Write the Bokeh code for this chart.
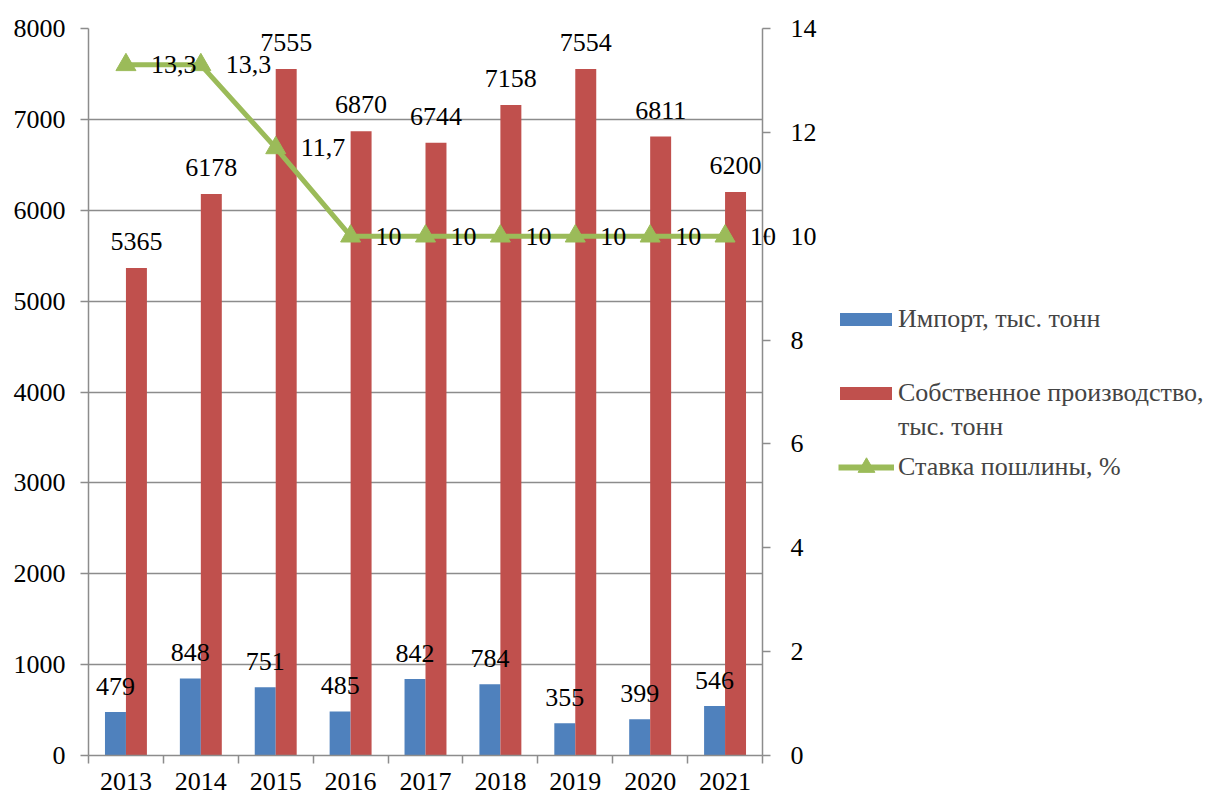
from bokeh.plotting import figure
from bokeh.layouts import row
from bokeh.models import (Range1d, LinearAxis, FixedTicker, ColumnDataSource,
                          LabelSet, Label, Legend, LegendItem)
from bokeh.core.properties import value
from bokeh.transform import dodge
from bokeh.embed import file_html
from bokeh.resources import INLINE

years = [2013, 2014, 2015, 2016, 2017, 2018, 2019, 2020, 2021]
imports = [479, 848, 751, 485, 842, 784, 355, 399, 546]
production = [5365, 6178, 7555, 6870, 6744, 7158, 7554, 6811, 6200]
duty = [13.3, 13.3, 11.7, 10, 10, 10, 10, 10, 10]
duty_labels = ["13,3", "13,3", "11,7", "10", "10", "10", "10", "10", "10"]
left_ticks = [0, 1000, 2000, 3000, 4000, 5000, 6000, 7000, 8000]
right_ticks = [0, 2, 4, 6, 8, 10, 12, 14]
series_names = ["Импорт, тыс. тонн", "Собственное производство,", "тыс. тонн", "Ставка пошлины, %"]

FONT = "Liberation Serif"
FS = "26px"
LFS = "26px"
GRID = "#8c8c8c"
BLUE = "#4F81BD"
RED = "#C0504D"
GREEN = "#9BBB59"

p = figure(frame_width=674, frame_height=727, output_backend="svg", toolbar_location=None,
           x_range=Range1d(years[0] - 0.5, years[-1] + 0.5), y_range=Range1d(0, 8000),
           min_border_left=88, min_border_right=70, min_border_top=28, min_border_bottom=41)
p.extra_y_ranges = {"rate": Range1d(0, 14)}
p.outline_line_color = None
p.xgrid.visible = False
p.ygrid.ticker = FixedTicker(ticks=left_ticks)
p.ygrid.grid_line_color = GRID
p.ygrid.grid_line_width = 1.5

xa = p.xaxis[0]
xa.ticker = FixedTicker(ticks=years, minor_ticks=[y - 0.5 for y in years] + [years[-1] + 0.5])
xa.major_tick_line_color = None
xa.major_tick_out = 8
xa.major_tick_in = 0
xa.minor_tick_out = 8
xa.minor_tick_in = 0
xa.minor_tick_line_color = GRID
xa.minor_tick_line_width = 1.5
xa.axis_line_color = GRID
xa.axis_line_width = 1.5
xa.major_label_standoff = 9

ya = p.yaxis[0]
ya.ticker = FixedTicker(ticks=left_ticks)
ya.major_tick_out = 8
ya.major_tick_in = 0
ya.minor_tick_line_color = None
ya.major_tick_line_color = GRID
ya.major_tick_line_width = 1.5
ya.axis_line_color = GRID
ya.axis_line_width = 1.5
ya.major_label_standoff = 15

ra = LinearAxis(y_range_name="rate", ticker=FixedTicker(ticks=right_ticks))
ra.major_tick_out = 8
ra.major_tick_in = 0
ra.minor_tick_line_color = None
ra.major_tick_line_color = GRID
ra.major_tick_line_width = 1.5
ra.axis_line_color = GRID
ra.axis_line_width = 1.5
ra.major_label_standoff = 20
p.add_layout(ra, "right")

for ax in (xa, ya, ra):
    ax.major_label_text_font = FONT
    ax.major_label_text_font_size = FS
    ax.major_label_text_color = "black"

src = ColumnDataSource(dict(
    year=years, imp=imports, prod=production, duty=duty, duty_lbl=duty_labels,
    imp_lbl=[str(v) for v in imports], prod_lbl=[str(v) for v in production]))
# duty labels drawn inside the frame (the last one sits over the right axis, drawn separately)
duty_src = ColumnDataSource(dict(year=years[:-1], duty=duty[:-1], duty_lbl=duty_labels[:-1]))

bw = 0.28
r_imp = p.vbar(x=dodge("year", -bw / 2), top="imp", width=bw, source=src,
               fill_color=BLUE, line_color=None)
r_prod = p.vbar(x=dodge("year", bw / 2), top="prod", width=bw, source=src,
                fill_color=RED, line_color=None)
r_line = p.line("year", "duty", source=src, y_range_name="rate", line_width=5, line_color=GREEN)
r_pts = p.scatter("year", "duty", source=src, y_range_name="rate", marker="triangle",
                  size=20, fill_color=GREEN, line_color=GREEN)

common = dict(text_font=value(FONT), text_font_size=value(FS), text_color="black")
p.add_layout(LabelSet(x=dodge("year", -bw / 2), y="imp", text="imp_lbl", text_align="center",
                      text_baseline="alphabetic", y_offset=17, source=src, **common))
p.add_layout(LabelSet(x=dodge("year", bw / 2), y="prod", text="prod_lbl", text_align="center",
                      text_baseline="alphabetic", y_offset=18, source=src, **common))
p.add_layout(LabelSet(x="year", y="duty", text="duty_lbl", y_range_name="rate", text_align="left",
                      text_baseline="middle", x_offset=25, source=duty_src, **common))
last_lbl = Label(x=years[-1], y=duty[-1], y_range_name="rate", text=duty_labels[-1],
                 x_offset=25, text_align="left", text_baseline="middle",
                 text_font=FONT, text_font_size=FS, text_color="black")
p.add_layout(last_lbl, "above")

# legend panel (separate figure to the right of the chart)
lf = figure(width=382, height=796, output_backend="svg", toolbar_location=None,
            x_range=Range1d(0, 1), y_range=Range1d(0, 1),
            min_border_left=0, min_border_right=0, min_border_top=0, min_border_bottom=0)
lf.axis.visible = False
lf.grid.visible = False
lf.outline_line_color = None
g_imp = lf.vbar(x="year", top="imp", width=bw, source=src, fill_color=BLUE, line_color=None)
g_prod = lf.vbar(x="year", top="prod", width=bw, source=src, fill_color=RED, line_color=None)
g_blank = lf.vbar(x="year", top="prod", width=bw, source=src, fill_alpha=0, line_alpha=0)
g_line = lf.line("year", "duty", source=src, line_width=6, line_color=GREEN)
g_pts = lf.scatter("year", "duty", source=src, marker="triangle", size=20,
                   fill_color=GREEN, line_color=GREEN)

leg_common = dict(padding=0, margin=0, border_line_color=None, background_fill_alpha=0,
                  label_text_font=FONT, label_text_font_size=LFS)
l1 = Legend(items=[LegendItem(label=series_names[0], renderers=[g_imp])],
            location=(1, 421), glyph_width=65, glyph_height=16, label_standoff=0, **leg_common)
l2a = Legend(items=[LegendItem(label=series_names[1], renderers=[g_prod])],
             location=(1, 347), glyph_width=65, glyph_height=16, label_standoff=0, **leg_common)
l2b = Legend(items=[LegendItem(label=series_names[2], renderers=[g_blank])],
             location=(1, 313), glyph_width=65, glyph_height=16, label_standoff=0, **leg_common)
l3 = Legend(items=[LegendItem(label=series_names[3], renderers=[g_line, g_pts])],
            location=(6, 267), glyph_width=56, glyph_height=42, label_standoff=4, **leg_common)
for lg in (l1, l2a, l2b, l3):
    lf.add_layout(lg)

layout = row(p, lf, spacing=0)
open("out.html", "w").write(file_html(layout, INLINE))
